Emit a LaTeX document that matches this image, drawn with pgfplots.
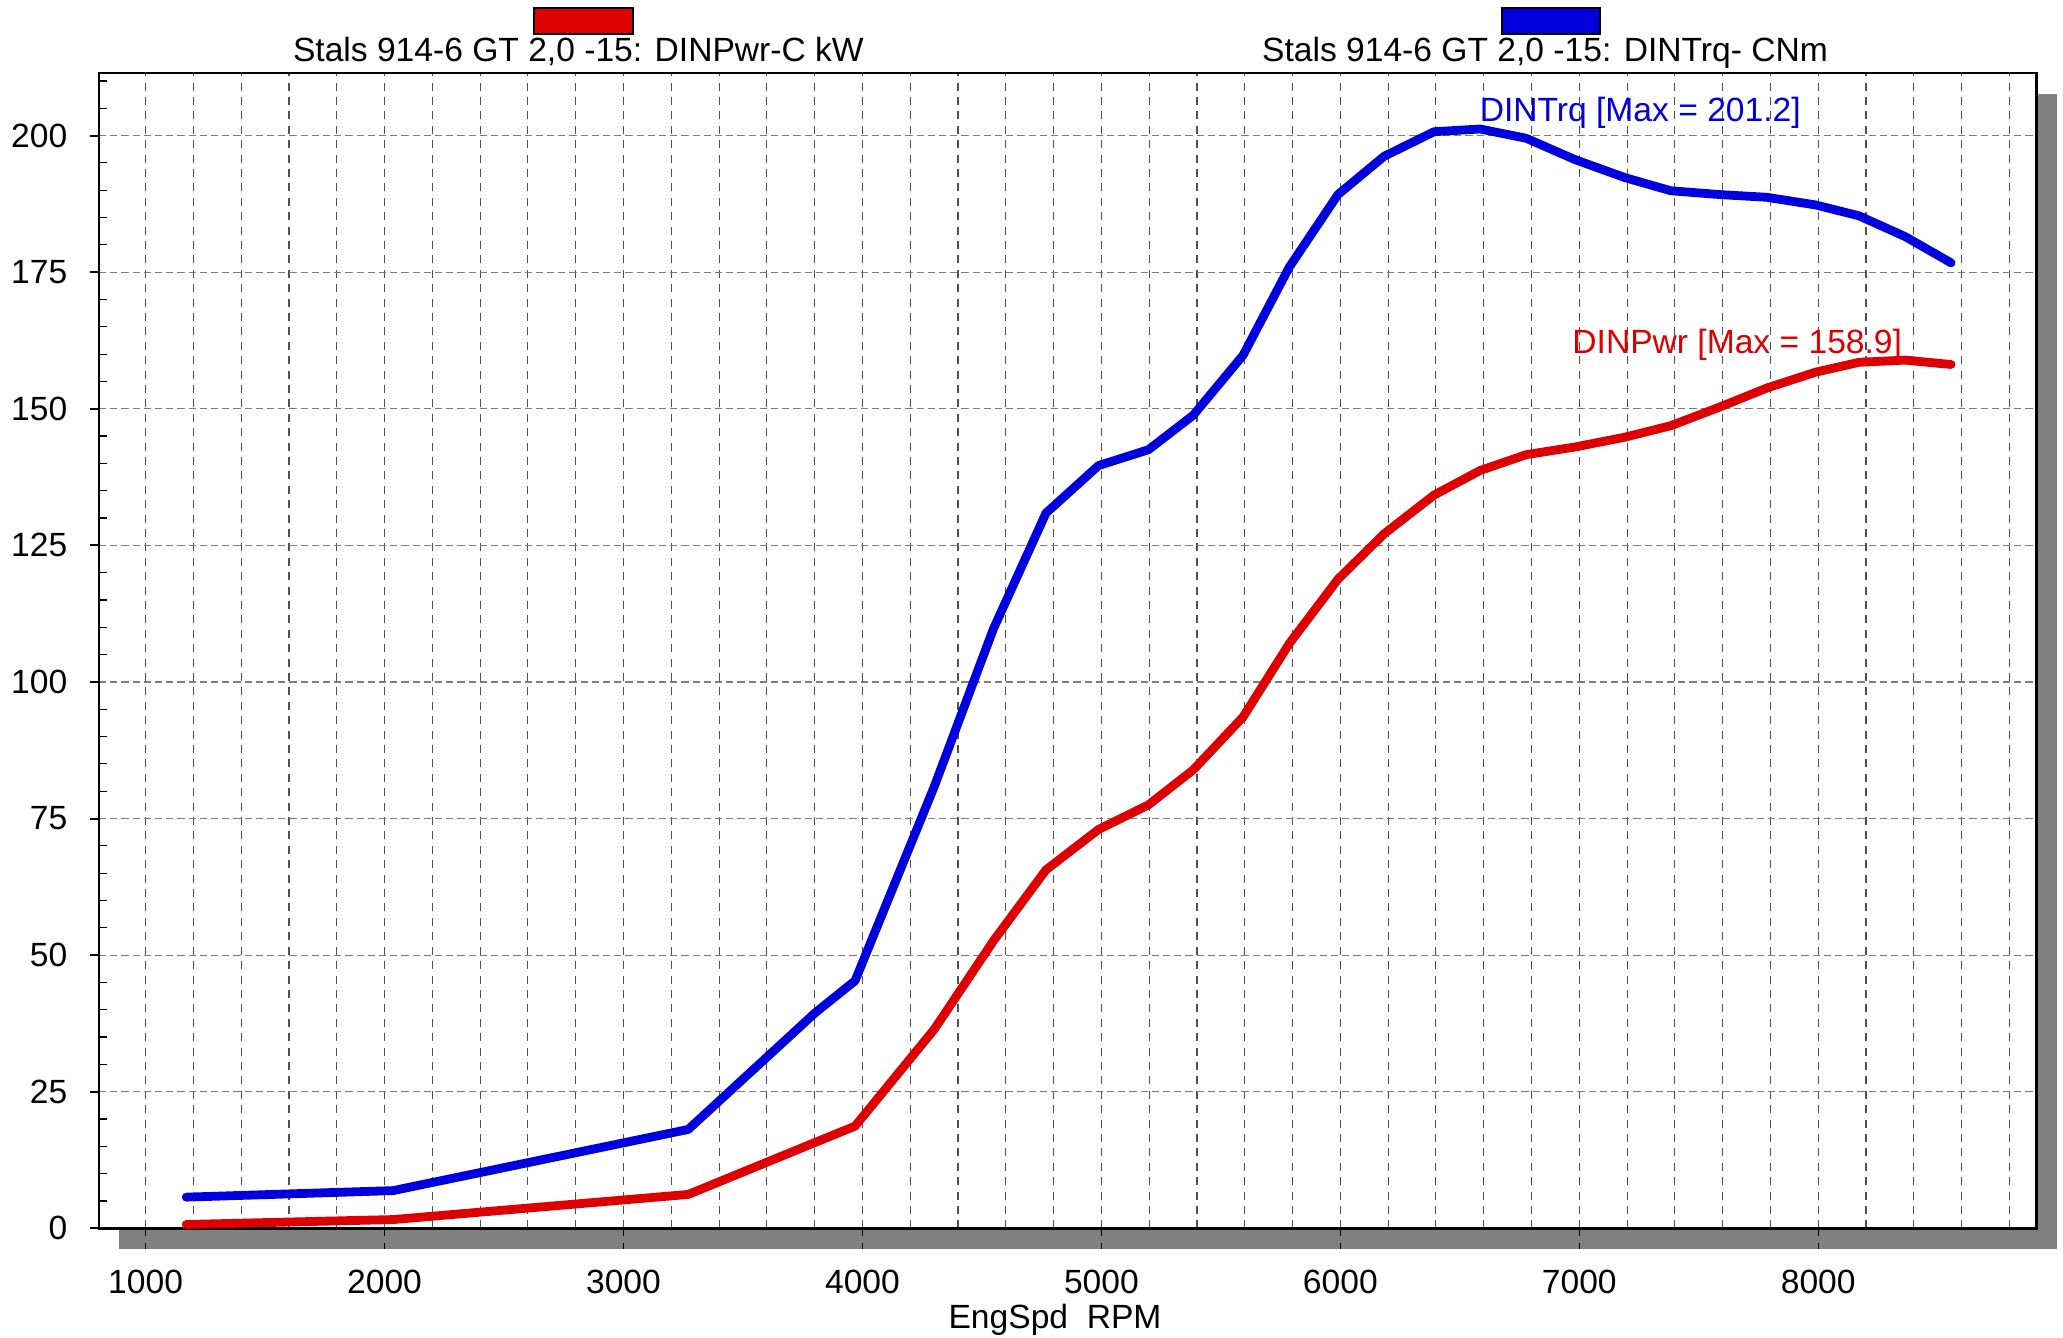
\documentclass[border=0pt]{standalone}
\usepackage{pgfplots}
\pgfplotsset{compat=1.18}
\usepackage{fontspec}
\setmainfont{Liberation Sans}
\definecolor{cred}{RGB}{222,0,0}
\definecolor{cblue}{RGB}{0,0,222}
\definecolor{vgrid}{RGB}{80,80,80}
\definecolor{hgrid}{RGB}{125,125,125}
\definecolor{shadowgray}{RGB}{128,128,128}
\begin{document}
\fontsize{8.4}{10}\selectfont
\begin{tikzpicture}
\useasboundingbox (0,0) rectangle (515.75pt,334.25pt);
% drop shadow
\fill[shadowgray] (29.75pt,21.925pt) rectangle (514.15pt,310.675pt);
\begin{axis}[
  at={(24.75pt,27.175pt)}, anchor=south west,
  scale only axis, width=484.4pt, height=288.75pt,
  xmin=805, xmax=8914, ymin=0, ymax=211.4,
  axis background/.style={fill=white},
  axis line style={line width=0.6pt, black},
  xtick={1000,2000,...,8000},
  minor xtick={1000,1200,...,8800},
  ytick={0,25,...,200},
  major tick length=0pt, minor tick length=0pt,
  xminorgrids=true, ymajorgrids=true,
  minor grid style={vgrid, line width=0.28pt, dash pattern=on 2pt off 1.6pt},
  major grid style={hgrid, line width=0.3pt, dash pattern=on 1.8pt off 1pt},
  /pgf/number format/assume math mode=true,
  /pgf/number format/1000 sep={},
  tick label style={font=\fontsize{8.4}{10}\selectfont},
  yticklabel style={anchor=east, inner sep=0pt, xshift=-7.75pt},
  xticklabel style={anchor=base, inner sep=0pt, yshift=-16.4pt},
  clip=false,
]
\addplot[cblue, line width=2.2pt, line join=round, line cap=round] coordinates {
(1170,5.7) (2036,6.9) (3271,18.1) (3801,39.4) (3969,45.3) (4300,80.8) (4548,109.7)
(4768,130.9) (4988,139.6) (5197,142.5) (5384,148.8) (5593,159.8) (5786,175.9)
(5990,189.2) (6183,196.2) (6392,200.7) (6585,201.2) (6778,199.5) (6982,195.6)
(7191,192.3) (7383,189.9) (7587,189.2) (7785,188.7) (7989,187.3) (8171,185.3)
(8364,181.5) (8556,176.7)
};
\addplot[cred, line width=2.2pt, line join=round, line cap=round] coordinates {
(1170,0.7) (2036,1.6) (3271,6.2) (3801,15.7) (3969,18.7) (4300,36.4) (4548,52.6)
(4768,65.6) (4988,73.0) (5197,77.5) (5384,83.9) (5593,93.6) (5786,107.0)
(5990,118.8) (6183,127.1) (6392,134.2) (6585,138.7) (6778,141.6) (6982,143.0)
(7191,144.8) (7383,146.9) (7587,150.3) (7785,153.8) (7989,156.7) (8171,158.5)
(8364,158.9) (8556,158.1)
};
\pgfplotsinvokeforeach{1000,2000,...,8000}{
  \draw[black, line width=0.3pt, dash pattern=on 2pt off 1.6pt] (axis cs:#1,0) -- ++(0pt,-5.25pt);
}
\pgfplotsinvokeforeach{0,25,...,200}{
  \draw[black, line width=0.5pt] (axis cs:805,#1) -- ++(-2.25pt,0pt);
}
\pgfplotsinvokeforeach{5,10,15,20,30,35,40,45,55,60,65,70,80,85,90,95,105,110,115,120,130,135,140,145,155,160,165,170,180,185,190,195,205,210}{
  \draw[black, line width=0.3pt] (axis cs:805,#1) -- ++(2pt,0pt);
}
\end{axis}
% legend entries
\draw[fill=cred, line width=0.4pt] (133.5pt,325.75pt) rectangle (158.25pt,332.25pt);
\node[anchor=base, inner sep=0pt] at (144.6pt,318.75pt) {Stals 914-6 GT 2,0 -15: DINPwr-C kW};
\draw[fill=cblue, line width=0.4pt] (375.5pt,325.75pt) rectangle (400pt,332.25pt);
\node[anchor=base, inner sep=0pt] at (386.25pt,318.75pt) {Stals 914-6 GT 2,0 -15: DINTrq- CNm};
% annotations
\node[anchor=base west, inner sep=0pt, text=cblue] at (369.75pt,303.75pt) {DINTrq [Max = 201.2]};
\node[anchor=base west, inner sep=0pt, text=cred] at (392.9pt,245.9pt) {DINPwr [Max = 158.9]};
% x label
\node[anchor=base, inner sep=0pt] at (263.75pt,2.2pt) {EngSpd\ \ RPM};
\end{tikzpicture}
\end{document}
